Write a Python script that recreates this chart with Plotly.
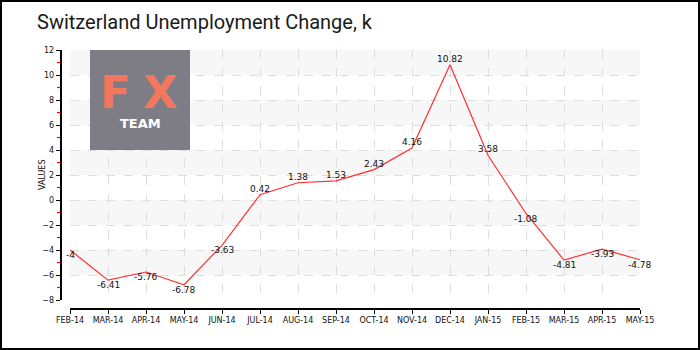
import plotly.graph_objects as go

# Monthly Swiss unemployment change, thousands
months = ["FEB-14", "MAR-14", "APR-14", "MAY-14", "JUN-14", "JUL-14", "AUG-14",
          "SEP-14", "OCT-14", "NOV-14", "DEC-14", "JAN-15", "FEB-15", "MAR-15",
          "APR-15", "MAY-15"]
values = [-4, -6.41, -5.76, -6.78, -3.63, 0.42, 1.38, 1.53, 2.43, 4.16, 10.82,
          3.58, -1.08, -4.81, -3.93, -4.78]
y_ticks = [-8, -6, -4, -2, 0, 2, 4, 6, 8, 10, 12]
y_minor = [-7, -5, -3, -1, 1, 3, 5, 7, 9, 11]

W, H = 700, 350
# plot area in pixels
PX0, PX1 = 70, 640
PY0, PY1 = 50, 300


def px(x):
    return x / W


def py(y):
    return (H - y) / H


fig = go.Figure()

fig.add_trace(go.Scatter(
    x=list(range(len(months))), y=values, mode="lines",
    line=dict(color="#ff3030", width=1.2),
    hoverinfo="skip", showlegend=False,
))

# value labels
for i, v in enumerate(values):
    fig.add_annotation(
        x=i, y=v, xref="x", yref="y", text=f"{v:g}", showarrow=False,
        font=dict(family="DejaVu Sans", size=9, color="#111"),
        yanchor="middle", xanchor="center",
        yshift=6 if v > 0 else -5,
    )

# alternating horizontal bands
shapes = []
for lo in range(-6, 12, 4):
    shapes.append(dict(type="rect", xref="x domain", yref="y",
                       x0=0, x1=1, y0=lo, y1=lo + 2,
                       fillcolor="#f7f7f7", line=dict(width=0), layer="below"))

# red minor ticks on the value axis
for v in y_minor:
    shapes.append(dict(type="line", xref="paper", yref="y",
                       x0=px(57), x1=px(60.5), y0=v, y1=v,
                       line=dict(color="#ff0000", width=1.2)))

# logo box
shapes.append(dict(type="rect", xref="paper", yref="paper",
                   x0=px(90), x1=px(190), y0=py(150), y1=py(50),
                   fillcolor="#7e7d86", line=dict(width=0), layer="above"))
# outer frame
shapes.append(dict(type="rect", xref="paper", yref="paper",
                   x0=px(1), x1=px(699), y0=py(349), y1=py(1),
                   line=dict(color="#000", width=2), fillcolor="rgba(0,0,0,0)"))

for letter, cx in (("F", 116), ("X", 160)):
    fig.add_annotation(x=px(cx), y=py(93), xref="paper", yref="paper",
                       text=f"<b>{letter}</b>", showarrow=False,
                       font=dict(family="DejaVu Sans", size=45, color="#f2775e"),
                       xanchor="center", yanchor="middle")
fig.add_annotation(x=px(140), y=py(123), xref="paper", yref="paper", text="<b>TEAM</b>",
                   showarrow=False, font=dict(family="DejaVu Sans", size=13, color="#ffffff"),
                   xanchor="center", yanchor="middle")

# title and axis title
fig.add_annotation(x=px(35), y=py(22), xref="paper", yref="paper",
                   text="Switzerland Unemployment Change, k", showarrow=False,
                   font=dict(family="Roboto", size=20, color="#1a1a1a"),
                   xanchor="left", yanchor="middle")
fig.add_annotation(x=px(42), y=py(175), xref="paper", yref="paper",
                   text="VALUES", textangle=-90, showarrow=False,
                   font=dict(family="DejaVu Sans", size=8, color="#111"),
                   xanchor="center", yanchor="middle")

fig.update_layout(
    width=W, height=H,
    margin=dict(l=0, r=0, t=0, b=0),
    paper_bgcolor="white", plot_bgcolor="white",
    shapes=shapes,
    xaxis=dict(
        domain=[px(PX0), px(PX1)], range=[0, len(months) - 1],
        anchor="free", position=py(309),
        tickmode="array", tickvals=list(range(len(months))), ticktext=months,
        showline=True, linecolor="#000", linewidth=1.5,
        ticks="outside", ticklen=4, tickcolor="#000", tickwidth=1,
        tickfont=dict(family="DejaVu Sans", size=8, color="#111"),
        showgrid=True, gridcolor="#dedede", griddash="dash", gridwidth=1,
        zeroline=False, automargin=False, fixedrange=True,
    ),
    yaxis=dict(
        domain=[py(PY1), py(PY0)], range=[-8, 12],
        anchor="free", position=px(60.5),
        tickmode="array", tickvals=y_ticks,
        showline=True, linecolor="#000", linewidth=1.5,
        ticks="outside", ticklen=4, tickcolor="#000", tickwidth=1,
        tickfont=dict(family="DejaVu Sans", size=8, color="#111"),
        showgrid=True, gridcolor="#dedede", griddash="dash", gridwidth=1,
        zeroline=False, automargin=False, fixedrange=True,
    ),
)

fig.write_html("out.html")
